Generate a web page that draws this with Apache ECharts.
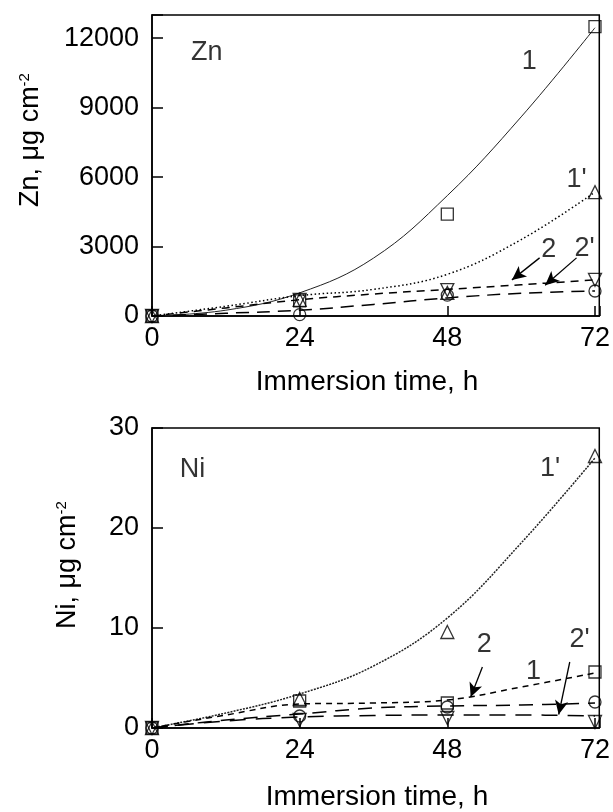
<!DOCTYPE html>
<html>
<head>
<meta charset="utf-8">
<script src="https://cdn.jsdelivr.net/npm/echarts@6/dist/echarts.min.js"></script>
<style>
html,body{margin:0;padding:0;background:#fff;}
#c{width:613px;height:812px;}
</style>
</head>
<body>
<div id="c"></div>
<script>
// ---------- data ----------
const times = [0, 24, 48, 72];
const curveTimes = [0, 12, 24, 36, 48, 60, 72];
const xTickLabels = [0, 24, 48, 72];
const znTickLabels = [0, 3000, 6000, 9000, 12000];
const niTickLabels = [0, 10, 20, 30];

// Zn markers
const znSquare = [0, 650, 4400, 12500];     // 1
const znTriUp = [0, 700, 1000, 5350];       // 1'
const znCircle = [0, 60, 900, 1080];        // 2
const znTriDown = [0, 700, 1120, 1560];     // 2'
// Zn fitted curves
const znCurve1 = [0, 250, 1000, 2500, 5200, 8600, 12450];
const znCurve1p = [0, 420, 880, 1150, 1800, 3300, 5350];
const znCurve2 = [0, 120, 250, 500, 780, 980, 1080];
const znCurve2p = [0, 350, 700, 950, 1150, 1350, 1560];

// Ni markers
const niSquare = [0, 2.7, 2.5, 5.6];
const niTriUp = [0, 2.9, 9.6, 27.2];
const niCircle = [0, 1.2, 2.1, 2.6];
const niTriDown = [0, 0.8, 1.0, 0.6];
// Ni fitted curves
const niCurve1 = [0, 1.3, 2.4, 2.5, 2.8, 4.1, 5.5];
const niCurve1p = [0, 1.5, 3.4, 6.2, 11, 18.5, 27];
const niCurve2 = [0, 0.8, 1.4, 2.0, 2.2, 2.3, 2.5];
const niCurve2p = [0, 0.7, 1.1, 1.25, 1.3, 1.3, 1.2];

// annotation labels [x, y, text]
const znLabels = [[8.9, 11390, 'Zn'], [61.3, 11000, '1'], [69, 5900, "1'"], [64.5, 2850, '2'], [70.3, 2900, "2'"]];
const niLabels = [[6.6, 25.8, 'Ni'], [64.7, 25.9, "1'"], [54, 8.3, '2'], [62, 5.6, '1'], [69.5, 8.8, "2'"]];
// arrows [[x1,y1],[x2,y2]]
const znArrows = [[[63, 2510], [58.5, 1560]], [[69, 2510], [63.9, 1330]]];
const niArrows = [[[53.7, 6.1], [51.8, 3.1]], [[67.9, 6.6], [66.1, 1.35]]];

// ---------- chart ----------
const FONT = '"Liberation Sans", Arial, sans-serif';
const chart = echarts.init(document.getElementById('c'));

function pairs(xs, ys) { return xs.map((x, i) => [x, ys[i]]); }

function xAxisCfg(idx) {
  return {
    gridIndex: idx, type: 'value', min: 0, max: 72.7, interval: 24,
    axisLine: { show: true, onZero: false, lineStyle: { color: '#000', width: 1.5 } },
    axisTick: { show: true, inside: true, length: 10, lineStyle: { color: '#000', width: 1.5 } },
    splitLine: { show: false },
    axisLabel: {
      color: '#000', fontSize: 27, fontFamily: FONT, margin: 9,
      formatter: v => (xTickLabels.indexOf(v) >= 0 ? String(v) : '')
    }
  };
}
function yAxisCfg(idx, max, interval, ticks) {
  return {
    gridIndex: idx, type: 'value', min: 0, max: max, interval: interval,
    axisLine: { show: true, lineStyle: { color: '#000', width: 1.5 } },
    axisTick: { show: true, inside: true, length: 11, lineStyle: { color: '#000', width: 1.5 } },
    splitLine: { show: false },
    axisLabel: {
      color: '#000', fontSize: 27, fontFamily: FONT, margin: 13,
      formatter: v => (ticks.indexOf(v) >= 0 ? String(v) : '')
    }
  };
}

function curve(idx, ys, type, color) {
  return {
    type: 'line', xAxisIndex: idx, yAxisIndex: idx, data: pairs(curveTimes, ys),
    smooth: 0.4, showSymbol: false, silent: true, z: 2,
    lineStyle: { color: color || '#000', width: type === 'solid' ? 1 : 1.5, type: type }
  };
}
function markers(idx, ys, symbol, size) {
  return {
    type: 'scatter', xAxisIndex: idx, yAxisIndex: idx, data: pairs(times, ys),
    symbol: symbol, symbolSize: size, silent: true, z: 3,
    itemStyle: { color: 'rgba(255,255,255,0)', borderColor: '#000', borderWidth: 1.3 }
  };
}
function labels(idx, arr, arrows) {
  return {
    type: 'scatter', xAxisIndex: idx, yAxisIndex: idx, data: arr,
    symbolSize: 0, silent: true, z: 5,
    label: { show: true, position: 'inside', color: '#000', fontSize: 27, fontFamily: FONT,
      formatter: p => p.value[2] },
    markLine: {
      silent: true, symbol: ['none', 'arrow'], symbolSize: [10, 14],
      label: { show: false },
      lineStyle: { color: '#000', width: 1.3, type: 'solid' },
      data: arrows.map(a => [{ coord: a[0] }, { coord: a[1] }])
    }
  };
}
const triDown = 'path://M0,0 L10,0 L5,9 Z';

chart.setOption({
  animation: false,
  backgroundColor: '#fff',
  grid: [
    { left: 152, top: 15, width: 451, height: 301, show: true, borderColor: '#000', borderWidth: 1.5, backgroundColor: 'transparent' },
    { left: 152, top: 428, width: 451, height: 300, show: true, borderColor: '#000', borderWidth: 1.5, backgroundColor: 'transparent' }
  ],
  xAxis: [xAxisCfg(0), xAxisCfg(1)],
  yAxis: [yAxisCfg(0, 13000, 3000, znTickLabels), yAxisCfg(1, 30, 10, niTickLabels)],
  graphic: [
    { type: 'text', x: 367, y: 382, style: { text: 'Immersion time, h', font: '28px ' + FONT, fill: '#000', textAlign: 'center', textVerticalAlign: 'middle' } },
    { type: 'text', x: 377, y: 797, style: { text: 'Immersion time, h', font: '28px ' + FONT, fill: '#000', textAlign: 'center', textVerticalAlign: 'middle' } },
    { type: 'text', x: 31, y: 140, rotation: Math.PI / 2,
      style: { text: '{a|Zn, μg cm}{b|-2}', rich: { a: { fontSize: 27, fontFamily: FONT, fill: '#000' }, b: { fontSize: 15, fontFamily: FONT, fill: '#000', verticalAlign: 'top' } }, textAlign: 'center', textVerticalAlign: 'middle' } },
    { type: 'text', x: 68, y: 565, rotation: Math.PI / 2,
      style: { text: '{a|Ni, μg cm}{b|-2}', rich: { a: { fontSize: 27, fontFamily: FONT, fill: '#000' }, b: { fontSize: 15, fontFamily: FONT, fill: '#000', verticalAlign: 'top' } }, textAlign: 'center', textVerticalAlign: 'middle' } }
  ],
  series: [
    curve(0, znCurve1, 'solid', '#222'),
    curve(0, znCurve1p, [1.5, 2.5]),
    curve(0, znCurve2, [13, 8]),
    curve(0, znCurve2p, [8, 6]),
    markers(0, znSquare, 'rect', 12),
    markers(0, znTriUp, 'triangle', 13),
    markers(0, znCircle, 'circle', 12),
    markers(0, znTriDown, triDown, 13),
    labels(0, znLabels, znArrows),

    curve(1, niCurve1p, [2, 1.2], '#222'),
    curve(1, niCurve1, [6, 5]),
    curve(1, niCurve2, [14, 9]),
    curve(1, niCurve2p, [16, 10]),
    markers(1, niSquare, 'rect', 12),
    markers(1, niTriUp, 'triangle', 13),
    markers(1, niCircle, 'circle', 12),
    markers(1, niTriDown, triDown, 13),
    labels(1, niLabels, niArrows)
  ]
});
</script>
</body>
</html>
